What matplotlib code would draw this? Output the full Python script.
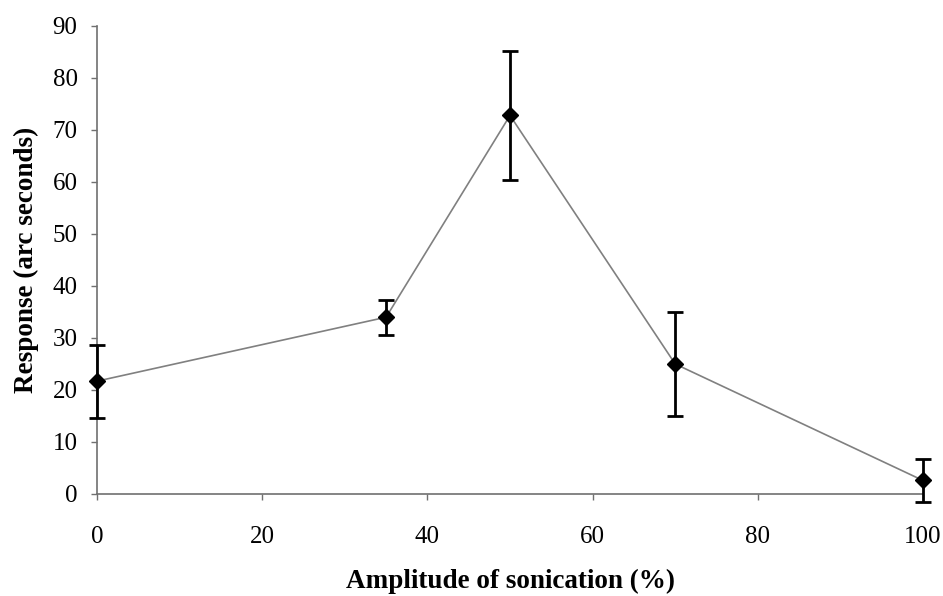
import matplotlib
matplotlib.use("Agg")
import matplotlib.pyplot as plt

# values
amplitude = [0, 35, 50, 70, 100]
response = [21.7, 34.0, 72.8, 25.0, 2.6]
error = [7.0, 3.4, 12.4, 10.0, 4.2]

xticks = [0, 20, 40, 60, 80, 100]
yticks = [0, 10, 20, 30, 40, 50, 60, 70, 80, 90]

plt.rcParams["font.family"] = ["Liberation Serif", "DejaVu Serif"]

fig = plt.figure(figsize=(9.43, 5.96), dpi=100)
ax = fig.add_axes([97 / 943, 1 - 494 / 596, 826 / 943, 468 / 596])

ax.plot(amplitude, response, color="#808080", linewidth=1.2, zorder=2)
ax.errorbar(amplitude, response, yerr=error, fmt="none", ecolor="black",
            elinewidth=2.0, capsize=5.5, capthick=2.0, zorder=3, clip_on=False)
ax.plot(amplitude, response, linestyle="none", marker="D", markersize=8,
        color="black", zorder=4, clip_on=False)

ax.set_xlim(0, 100)
ax.set_ylim(0, 90)
ax.set_xticks(xticks)
ax.set_yticks(yticks)

for side in ("top", "right"):
    ax.spines[side].set_visible(False)
for side in ("left", "bottom"):
    ax.spines[side].set_color("#707070")
    ax.spines[side].set_linewidth(1.2)
ax.tick_params(direction="out", length=4, width=1.0, color="#707070",
               labelsize=18)
ax.tick_params(axis="x", pad=19)
ax.tick_params(axis="y", pad=10)

ax.set_xlabel("Amplitude of sonication (%)", fontsize=19.5, fontweight="bold",
              labelpad=15)
ax.set_ylabel("Response (arc seconds)", fontsize=19.5, fontweight="bold",
              labelpad=10)

fig.savefig("out.png", dpi=100, facecolor="white")
